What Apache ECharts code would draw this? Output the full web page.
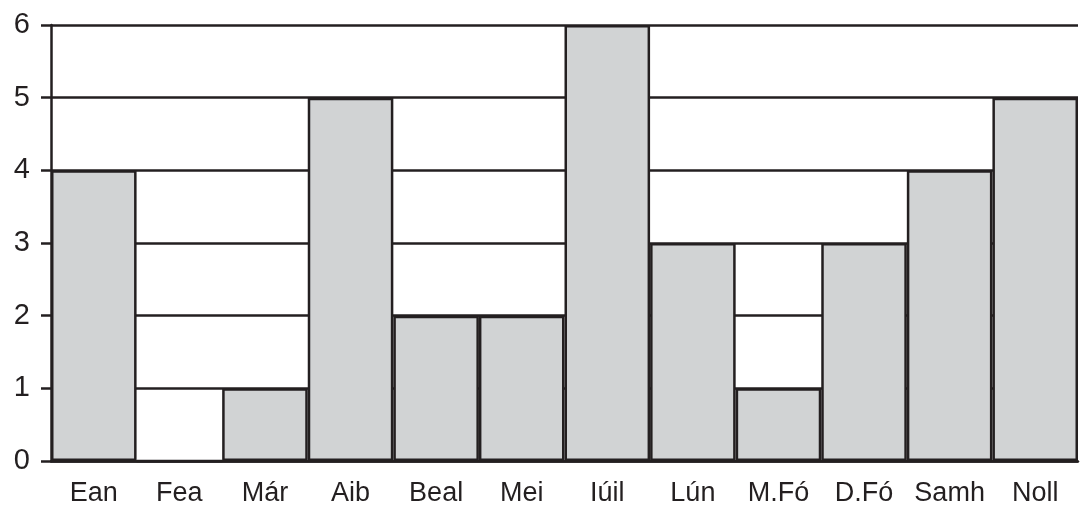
<!DOCTYPE html>
<html>
<head>
<meta charset="utf-8">
<script src="https://cdn.jsdelivr.net/npm/echarts@6/dist/echarts.min.js"></script>
<style>
html,body{margin:0;padding:0;background:#fff;}
#c{width:1082px;height:507px;}
</style>
</head>
<body>
<div id="c"></div>
<script>
const categories = ['Ean','Fea','Már','Aib','Beal','Mei','Iúil','Lún','M.Fó','D.Fó','Samh','Noll'];
const values = [4,0,1,5,2,2,6,3,1,3,4,5];
const yTicks = [0,1,2,3,4,5,6];

const chart = echarts.init(document.getElementById('c'));
chart.setOption({
  animation: false,
  grid: {left: 51, right: 4, top: 25, bottom: 45, containLabel: false},
  xAxis: {
    type: 'category',
    data: categories,
    axisLine: {show: true, lineStyle: {color: '#231f20', width: 2.5}},
    axisTick: {show: false},
    axisLabel: {interval: 0, hideOverlap: false, color: '#231f20', fontSize: 27, fontFamily: 'Liberation Sans, Arial, sans-serif', margin: 19},
    splitLine: {show: false}
  },
  yAxis: {
    type: 'value',
    min: yTicks[0],
    max: yTicks[yTicks.length - 1],
    interval: 1,
    axisLine: {show: true, lineStyle: {color: '#231f20', width: 2.5}},
    axisTick: {show: true, length: 10, lineStyle: {color: '#231f20', width: 2.5}},
    axisLabel: {color: '#231f20', fontSize: 29, fontFamily: 'Liberation Sans, Arial, sans-serif', margin: 21},
    splitLine: {show: true, lineStyle: {color: '#231f20', width: 2.5}}
  },
  series: [{
    type: 'bar',
    data: values,
    barCategoryGap: '0%',
    itemStyle: {color: '#d1d3d4', borderColor: '#231f20', borderWidth: 2.5}
  }]
});
</script>
</body>
</html>
